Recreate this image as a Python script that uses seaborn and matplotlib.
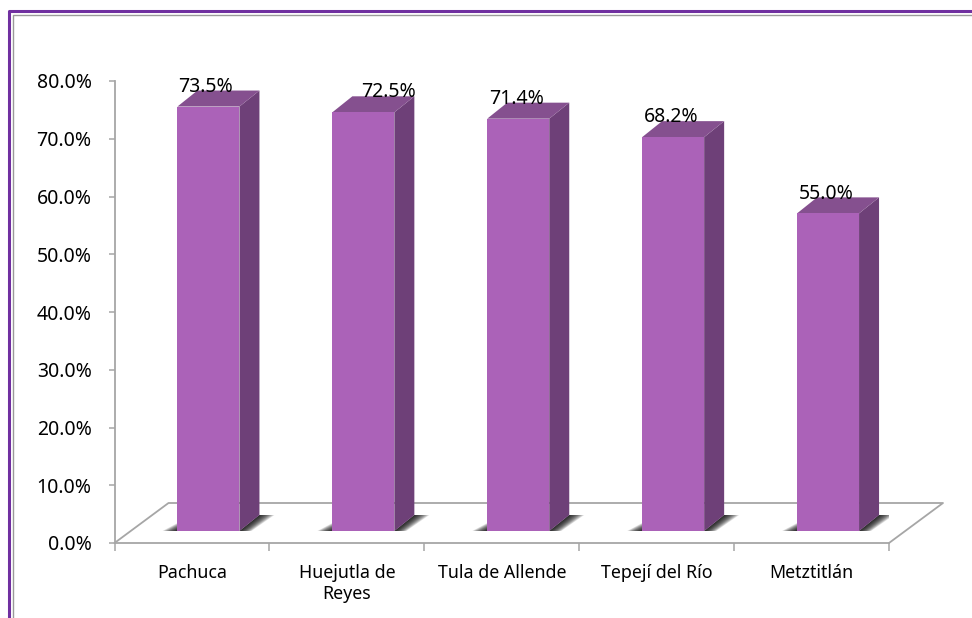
import numpy as np
import pandas as pd
import matplotlib
matplotlib.use("Agg")
import matplotlib.pyplot as plt
from matplotlib.patches import Polygon
from matplotlib.lines import Line2D
from matplotlib.ticker import FixedLocator, FuncFormatter, NullFormatter
import seaborn as sns

categories = ["Pachuca", "Huejutla de\nReyes", "Tula de Allende", "Tepejí del Río", "Metztitlán"]
values = [73.5, 72.5, 71.4, 68.2, 55.0]
label_dx_px = [-3, 25, -2, -2, -2]
label_dy_px = [20, 20, 20, 20, 19]
y_ticks = [0, 10, 20, 30, 40, 50, 60, 70, 80]

W, H = 972, 618
sns.set_theme(style="white")
plt.rcParams["font.family"] = ["Noto Sans", "DejaVu Sans"]

fig = plt.figure(figsize=(W / 100, H / 100), dpi=100, facecolor="white")
L, R, T, B = 114.5, 889, 81, 543
ax = fig.add_axes([L / W, 1 - B / H, (R - L) / W, (B - T) / H])

n = len(categories)
px_x = (R - L) / n
px_y = (B - T) / 80
shift = 16.5 / px_x
width = 62 / px_x
base = 12 / px_y
dx, dy = 20 / px_x, 16 / px_y
fx, fy = 54 / px_x, 40 / px_y
GRAY = "#A6A6A6"

df = pd.DataFrame({"pos": np.arange(n) + shift, "value": values})
sns.barplot(data=df, x="pos", y="value", native_scale=True, width=width, bottom=base,
            color="#AB62B8", saturation=1, ax=ax, zorder=5, linewidth=0, edgecolor="none",
            legend=False)
ax.set_xlim(-0.5, n - 0.5)
ax.set_ylim(0, 80)
ax.set_xlabel("")
ax.set_ylabel("")

# floor
x0, x1 = -0.5, n - 0.5
ax.add_line(Line2D([x0, x0 + fx, x1 + fx, x1], [0, fy, fy, 0], color=GRAY, lw=1.3,
                   clip_on=False, zorder=1))

# 3D faces and floor shadows
for bar in ax.patches[:n]:
    a, w = bar.get_x(), bar.get_width()
    b = a + w
    top = bar.get_y() + bar.get_height()
    y = bar.get_y()
    ax.add_patch(Polygon([(b, y), (b + dx, y + dy), (b + dx, top + dy), (b, top)],
                         fc="#6E4078", ec="none", zorder=4, clip_on=False))
    ax.add_patch(Polygon([(a, top), (a + dx, top + dy), (b + dx, top + dy), (b, top)],
                         fc="#85508F", ec="none", zorder=4, clip_on=False))
    steps = 14
    for k in range(steps):
        ext = (k + 1) / steps
        sx = 15 / px_x * ext
        ax.add_patch(Polygon([(b, y), (b + dx, y + dy), (b + dx + sx, y + dy), (b + sx * 0.8, y)],
                             fc="black", alpha=0.11, ec="none", zorder=3))
        ax.add_patch(Polygon([(a, y), (a, y + 8 / px_y * ext), (a - sx, y)],
                             fc="black", alpha=0.11, ec="none", zorder=3))

# data labels
for bar, v, ox, oy in zip(ax.patches[:n], values, label_dx_px, label_dy_px):
    ax.annotate(f"{v:.1f}%", (bar.get_x() + bar.get_width() / 2, bar.get_y() + bar.get_height()),
                xytext=(ox * 0.72, oy * 0.72), textcoords="offset points", ha="center",
                va="center", fontsize=14, color="black", zorder=8, annotation_clip=False)

# axes
sns.despine(ax=ax, top=True, right=True)
for s in ("left", "bottom"):
    ax.spines[s].set_color(GRAY)
    ax.spines[s].set_linewidth(1.3)
ax.set_yticks(y_ticks)
ax.yaxis.set_major_formatter(FuncFormatter(lambda v, _: f"{v:.1f}%"))
ax.tick_params(axis="y", left=True, length=4, width=1.1, color=GRAY, labelsize=14,
               labelcolor="black", pad=12.5)
ax.xaxis.set_major_locator(FixedLocator(np.arange(n + 1) - 0.5))
ax.xaxis.set_major_formatter(NullFormatter())
ax.xaxis.set_minor_locator(FixedLocator(np.arange(n)))
ax.set_xticklabels(categories, minor=True, fontsize=12.8, color="black", linespacing=1.2)
ax.tick_params(axis="x", which="major", bottom=True, length=6, width=1.1, color=GRAY)
ax.tick_params(axis="x", which="minor", bottom=False, length=0, pad=15)

# outer frame
def fig_line(xs, ys, color, lw):
    fig.add_artist(Line2D([x / W for x in xs], [1 - y / H for y in ys], color=color, lw=lw,
                          solid_capstyle="butt"))
fig_line([12.5, 12.5, W], [H, 14.5, 14.5], "#9A9A9A", 1.0)
fig_line([9, 9, W], [H, 11, 11], "#7030A0", 2.2)

fig.savefig("out.png", dpi=100)
